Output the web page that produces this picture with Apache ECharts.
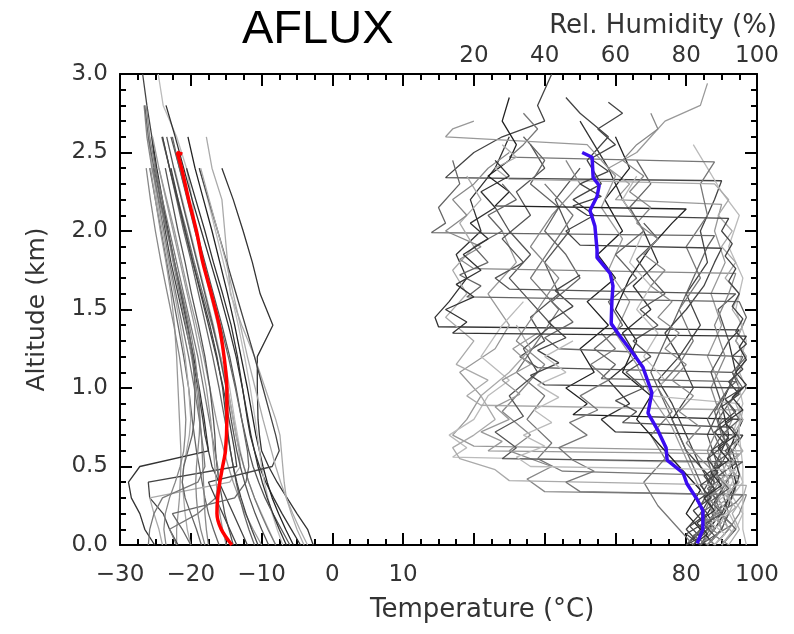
<!DOCTYPE html>
<html>
<head>
<meta charset="utf-8">
<script src="https://cdn.jsdelivr.net/npm/echarts@6/dist/echarts.min.js"></script>
<style>
  html, body { margin: 0; padding: 0; background: #fff; }
  #chart { width: 794px; height: 634px; }
</style>
</head>
<body>
<div id="chart"></div>
<script>
// altitude levels (km) for the temperature soundings
const altT = [0, 0.1, 0.2, 0.3, 0.4, 0.5, 0.6, 0.7, 0.8, 1.0, 1.2, 1.4, 1.6, 1.8, 2.0, 2.2, 2.4, 2.6, 2.8, 3.0];

// temperature soundings (degC), one per drop
const tempRuns = [
  [-2.7,-3.5,-5.0,-6.4,-7.8,-9.0,-10.0,-10.3,-10.5,-10.6,-10.6,-8.4,-10.2,-11.3,-12.6,-14.0,-15.6],
  [-4.0,-5.0,-5.8,-6.5,-6.8,-7.0,-7.2,-7.4,-8.0,-9.5,-11.0,-12.8,-14.4,-14.8,-15.2,-15.6,-17.0,-17.8],
  [-8.0,-9.0,-10.0,-11.0,-11.8,-12.5,-13.0,-13.4,-13.8,-14.5,-15.3,-16.2,-17.3,-18.3,-19.3,-19.8,-20.6,-22.0,-23.9,-24.6],
  [-12.0,-13.0,-14.0,-15.0,-16.0,-17.0,-17.5,-18.0,-18.3,-19.0,-19.8,-20.8,-21.8,-22.8,-23.6,-24.3,-25.0,-25.5,-26.2,-26.8],
  [-6.0,-7.2,-8.4,-9.5,-10.4,-11.2,-11.8,-12.3,-12.8,-13.6,-14.5,-15.6,-16.8,-18.0,-19.2,-20.4,-21.6,-22.8],
  [-8.0,-9.1,-10.1,-11.0,-11.8,-12.5,-13.1,-13.6,-14.0,-14.8,-15.8,-17.0,-18.3,-19.5,-20.6,-21.8,-23.0,-24.1],
  [-4.5,-5.8,-7.1,-8.3,-9.4,-10.3,-11.0,-11.6,-12.0,-12.7,-13.4,-14.3,-15.5,-16.8,-18.0,-19.3,-20.6],
  [-10.0,-11.2,-12.3,-13.2,-14.0,-14.7,-15.3,-15.9,-16.4,-17.3,-18.2,-19.2,-20.3,-21.3,-22.3,-23.4,-24.5],
  [-16.0,-16.8,-17.5,-18.0,-18.4,-18.8,-19.2,-19.5,-19.8,-20.3,-21.0,-21.8,-22.6,-23.4,-24.2,-25.0,-25.8],
  [-22.0,-22.0,-21.8,-21.6,-21.5,-21.4,-21.4,-21.5,-21.6,-21.8,-22.0,-22.3,-22.8,-23.5,-24.3,-25.0,-25.7],
  [-20.0,-20.5,-20.8,-21.0,-21.2,-21.0,-20.6,-20.2,-20.0,-20.3,-20.8,-21.5,-22.3,-23.2,-24.0,-24.8,-25.4,-26.0],
  [-14.0,-14.6,-15.2,-15.6,-16.0,-16.3,-16.5,-16.6,-16.8,-17.3,-18.0,-18.9,-19.9,-20.8,-21.8,-22.7,-23.6],
  [-5.5,-6.6,-7.6,-8.5,-9.2,-9.8,-10.3,-10.8,-11.2,-12.0,-12.9,-13.8,-14.8,-15.9,-17.0,-18.2,-19.4,-20.4],
  [-7.0,-7.8,-8.5,-9.1,-9.6,-10.0,-10.3,-10.6,-10.9,-11.6,-12.4,-13.3,-14.3,-15.4,-16.5,-17.6,-18.8],
  [-11.0,-11.8,-12.5,-13.1,-13.6,-14.0,-14.4,-14.8,-15.2,-16.0,-16.9,-17.9,-18.9,-19.9,-21.0,-22.0,-23.0,-24.0],
  [-17.5,-17.8,-18.0,-18.1,-18.2,-18.3,-18.4,-18.5,-18.7,-19.2,-19.9,-20.7,-21.6,-22.5,-23.3,-24.1,-25.0,-25.8,-26.3],
  [-25.1,-26.5,-27.2,-28.4,-28.8,-27.2,-17.5,-17.8,-18.1,-18.8,-19.6,-20.5,-21.4,-22.3,-23.2,-24.0,-24.8,-25.5],
  [-21.8,-23.0,-23.9,-25.8,-26.0,-13.5,-13.8,-14.2,-14.6,-15.4,-16.4,-17.5,-18.6,-19.7,-20.8,-21.8,-22.8],
  [-24.0,-24.5,-25.2,-25.8,-14.5,-13.0,-13.2,-13.6,-14.0,-14.8,-15.8,-16.8,-17.9,-19.0,-20.1,-21.2,-22.3],
  [-20.0,-21.2,-22.6,-13.8,-12.2,-11.8,-12.0,-12.4,-12.8,-13.7,-14.7,-15.8,-17.0,-18.2,-19.4,-20.5,-21.6,-22.6],
  [-22.0,-23.0,-19.0,-16.5,-16.0,-16.2,-16.6,-17.0,-17.4,-18.2,-19.0,-20.0,-21.0,-22.0,-23.0,-24.0,-25.0],
  [-13.5,-14.5,-15.5,-16.5,-17.5,-8.5,-7.5,-8.0,-8.6,-9.8,-11.0,-12.3,-13.6,-14.9,-16.2,-17.5,-18.8],
  [-18.0,-18.6,-19.0,-19.2,-19.3,-19.2,-19.0,-18.8,-18.7,-18.9,-19.4,-20.2,-21.2,-22.3,-23.4,-24.5,-25.5,-26.2,-26.6],
  [-9.0,-10.0,-10.9,-11.7,-12.4,-13.0,-13.5,-13.9,-14.3,-15.0,-15.9,-16.9,-18.0,-19.1,-20.2,-21.3,-22.4,-23.4],
  [-6.5,-7.5,-8.4,-9.2,-9.9,-10.5,-11.0,-11.5,-11.9,-12.7,-13.6,-14.7,-15.9,-17.2,-18.5,-19.8,-21.0,-22.2,-23.5],
  [-15.0,-15.5,-15.9,-16.2,-16.4,-16.6,-16.8,-17.0,-17.2,-17.8,-18.6,-19.5,-20.5,-21.5,-22.5,-23.5,-24.5,-25.4],
  [-26.0,-25.8,-25.2,-24.0,-19.0,-18.0,-18.2,-18.5,-18.8,-19.5,-20.3,-21.2,-22.1,-23.0,-23.8,-24.6,-25.3],
  [-18.5,-19.2,-20.0,-20.8,-21.2,-21.0,-20.4,-19.8,-19.5,-19.4,-19.7,-20.4,-21.3,-22.3,-23.3,-24.3,-25.2,-26.0,-26.5],
  [-10.5,-11.4,-12.2,-12.9,-13.5,-14.0,-14.4,-14.7,-15.0,-15.5,-16.3,-17.3,-18.5,-19.7,-20.8,-21.9,-23.0,-24.0],
  [-3.5,-4.6,-5.6,-6.5,-7.3,-8.0,-8.6,-9.2,-9.8,-10.9,-12.0,-13.0,-14.0,-15.0,-16.2,-17.4,-18.6],
  [-23.5,-23.8,-23.6,-23.0,-22.2,-21.5,-21.0,-20.8,-20.7,-21.0,-21.6,-22.4,-23.3,-24.2,-25.0,-25.7,-26.3]
];
const tempShades = ['#333','#aaa','#bbb','#444','#555','#777','#333','#999','#666','#999','#aaa','#555',
  '#222','#bbb','#666','#888','#333','#444','#aaa','#666','#777','#444','#888',
  '#555','#333','#999','#777','#666','#444','#aaa','#888'];

// campaign mean temperature [degC, km]
const tempMean = [[-14.2,0],[-15.7,0.1],[-16.3,0.2],[-16.2,0.3],[-15.9,0.4],[-15.5,0.5],[-15.1,0.6],
  [-14.9,0.8],[-14.9,1.0],[-15.3,1.2],[-16.0,1.4],[-17.1,1.6],[-18.3,1.8],[-19.2,2.0],[-20.3,2.2],
  [-21.3,2.4],[-21.9,2.5],[-21.2,2.49]];

// relative humidity soundings [%, km]
const rhRuns = [
  [[84,0],[88,0.1],[86,0.2],[90,0.35],[88,0.5],[92,0.7],[90,0.9],[94,1.1],[92,1.3],[95,1.37],[10,1.39],[9,1.45],[13,1.55],[18,1.7],[15,1.85],[22,2.0],[19,2.2],[26,2.4],[30,2.6]],
  [[80,0],[85,0.1],[90,0.25],[87,0.4],[92,0.6],[89,0.8],[95,1.0],[93,1.1],[38,1.13],[33,1.2],[40,1.3],[36,1.45],[44,1.6],[40,1.8],[47,2.0],[43,2.2],[50,2.4]],
  [[88,0],[92,0.1],[90,0.2],[94,0.35],[92,0.5],[96,0.6],[20,0.63],[14,0.7],[18,0.8],[22,0.95],[16,1.1],[26,1.25],[30,1.4],[24,1.6],[32,1.8],[28,2.0]],
  [[86,0],[90,0.1],[88,0.2],[93,0.3],[95,0.44],[45,0.47],[38,0.55],[42,0.65],[35,0.8],[40,0.95],[32,1.1],[38,1.3],[44,1.5],[36,1.7],[42,1.9],[48,2.1],[40,2.3]],
  [[90,0],[94,0.12],[91,0.25],[96,0.4],[94,0.52],[14,0.56],[18,0.62],[13,0.7],[20,0.8],[24,0.95],[30,1.05],[22,1.2],[28,1.4],[34,1.55]],
  [[82,0],[86,0.1],[84,0.25],[88,0.4],[80,0.6],[76,0.8],[82,1.0],[78,1.2],[84,1.4],[80,1.6],[86,1.8],[84,2.0],[88,2.2],[90,2.32],[12,2.34],[16,2.42],[20,2.5],[28,2.6],[40,2.7],[38,2.8],[42,3.0]],
  [[84,0],[88,0.15],[86,0.3],[82,0.5],[78,0.7],[74,0.9],[70,1.1],[74,1.3],[78,1.5],[82,1.7],[86,1.9],[88,1.97],[8,1.99],[12,2.05],[10,2.15],[16,2.3],[14,2.45]],
  [[90,0],[94,0.1],[96,0.2],[92,0.35],[95,0.5],[93,0.7],[96,0.9],[94,1.1],[97,1.3],[94,1.5],[96,1.7],[92,1.9],[95,2.1],[90,2.25],[86,2.4],[82,2.55]],
  [[86,0],[90,0.1],[88,0.25],[92,0.4],[89,0.6],[93,0.8],[90,1.0],[86,1.2],[90,1.4],[87,1.6],[91,1.8],[88,2.0],[90,2.17],[60,2.2],[64,2.3],[58,2.4],[66,2.5],[70,2.6],[74,2.7],[84,2.8],[86,2.94]],
  [[82,0],[86,0.1],[90,0.2],[94,0.4],[92,0.6],[96,0.8],[48,0.83],[52,0.9],[46,1.0],[54,1.1],[50,1.25],[58,1.4],[52,1.55],[60,1.7],[55,1.85],[62,2.0],[57,2.2],[64,2.4],[60,2.6]],
  [[80,0],[84,0.1],[88,0.2],[85,0.35],[89,0.5],[86,0.7],[90,0.9],[87,1.1],[92,1.3],[89,1.5],[94,1.6],[30,1.63],[26,1.7],[34,1.8],[28,1.95],[36,2.1],[32,2.25],[40,2.4],[36,2.55]],
  [[88,0],[92,0.1],[95,0.2],[97,0.32],[40,0.34],[35,0.42],[42,0.5],[30,0.6],[36,0.7],[28,0.85],[34,1.0],[40,1.15],[32,1.3],[38,1.5],[44,1.7],[36,1.9],[42,2.1],[50,2.3],[46,2.45]],
  [[84,0],[88,0.1],[92,0.25],[95,0.45],[93,0.6],[96,0.7],[60,0.72],[56,0.8],[64,0.9],[58,1.05],[66,1.2],[62,1.35],[70,1.5],[65,1.65],[72,1.8],[68,2.0],[62,2.2],[58,2.4],[54,2.55],[50,2.7]],
  [[82,0],[78,0.1],[72,0.25],[68,0.4],[74,0.55],[70,0.7],[76,0.85],[72,1.0],[78,1.15],[82,1.3],[78,1.5],[84,1.7],[80,1.9],[86,2.1],[84,2.3],[88,2.44],[30,2.47],[34,2.55],[38,2.65],[34,2.75]],
  [[86,0],[90,0.1],[93,0.25],[90,0.45],[94,0.65],[96,0.86],[22,0.89],[18,0.95],[24,1.05],[15,1.15],[20,1.3],[12,1.45],[18,1.6],[14,1.75],[20,1.9],[16,2.05],[22,2.2],[18,2.35]],
  [[84,0],[80,0.1],[84,0.2],[88,0.35],[84,0.5],[80,0.7],[76,0.9],[72,1.05],[78,1.2],[74,1.35],[80,1.5],[85,1.65],[88,1.8],[90,1.89],[50,1.91],[46,2.0],[54,2.1],[48,2.2],[56,2.3],[52,2.45],[58,2.6],[50,2.75],[46,2.85]],
  [[90,0],[94,0.1],[90,0.2],[86,0.4],[90,0.6],[86,0.8],[92,1.0],[96,1.2],[44,1.25],[40,1.32],[48,1.42],[42,1.55],[50,1.7],[46,1.85],[40,2.0],[44,2.15],[36,2.3],[40,2.45],[34,2.6]],
  [[86,0],[90,0.1],[88,0.2],[84,0.35],[80,0.55],[76,0.75],[70,0.95],[66,1.15],[60,1.35],[64,1.55],[58,1.75],[62,1.95],[56,2.15],[60,2.35],[52,2.55],[12,2.6],[14,2.65],[20,2.7]],
  [[97,0],[96,0.1],[96,0.3],[96,0.5],[95,0.7],[95,0.9],[70,0.95],[74,1.05],[68,1.2],[72,1.35],[66,1.5],[70,1.65],[64,1.8],[68,2.0],[62,2.2],[66,2.35]],
  [[86,0],[90,0.1],[92,0.2],[90,0.35],[94,0.5],[96,0.53],[28,0.55],[32,0.62],[26,0.72],[34,0.82],[30,0.95],[38,1.1],[34,1.25],[42,1.4],[36,1.55],[30,1.7],[36,1.85],[30,2.0],[26,2.15]],
  [[84,0],[88,0.1],[85,0.2],[89,0.4],[86,0.6],[90,0.8],[87,1.0],[91,1.2],[88,1.4],[92,1.6],[94,1.73],[20,1.76],[16,1.82],[22,1.9],[12,2.0],[18,2.1],[14,2.2],[20,2.3],[24,2.4],[30,2.5]],
  [[88,0],[84,0.1],[80,0.2],[84,0.35],[78,0.5],[72,0.65],[66,0.8],[70,0.95],[62,1.1],[66,1.3],[60,1.5],[64,1.7],[70,1.9],[76,2.05],[80,2.14],[26,2.16],[30,2.25],[24,2.35],[30,2.45],[32,2.55],[28,2.7],[30,2.85]],
  [[82,0],[86,0.1],[84,0.25],[88,0.4],[86,0.55],[90,0.7],[88,0.85],[92,1.0],[94,1.04],[56,1.06],[60,1.15],[54,1.25],[62,1.4],[58,1.55],[66,1.7],[60,1.85],[68,2.0],[64,2.15],[70,2.3],[66,2.45]],
  [[92,0],[95,0.1],[93,0.2],[96,0.3],[97,0.38],[30,0.41],[26,0.48],[16,0.55],[14,0.62],[20,0.7],[26,0.8],[22,0.95],[30,1.1],[36,1.25],[32,1.4]],
  [[88,0],[85,0.06],[90,0.14],[87,0.22],[92,0.3],[89,0.38],[94,0.45],[91,0.52],[95,0.58],[24,0.6],[28,0.66],[22,0.72],[30,0.8],[26,0.88],[33,0.96],[28,1.05],[36,1.15],[31,1.25],[38,1.35]],
  [[80,0],[84,0.05],[81,0.12],[86,0.2],[83,0.28],[88,0.36],[85,0.44],[90,0.52],[87,0.6],[92,0.68],[89,0.76],[94,0.85],[91,0.93],[96,1.0],[40,1.02],[36,1.08],[44,1.16],[38,1.24],[46,1.32],[41,1.42],[48,1.52],[43,1.62],[50,1.72]],
  [[92,0],[88,0.06],[93,0.13],[89,0.2],[94,0.27],[96,0.32],[50,0.34],[46,0.4],[54,0.47],[48,0.54],[44,0.62],[52,0.7],[47,0.78],[55,0.86],[50,0.95],[58,1.05],[53,1.15],[60,1.25],[56,1.35]],
  [[86,0],[82,0.06],[87,0.13],[84,0.2],[89,0.28],[86,0.36],[91,0.44],[88,0.52],[93,0.6],[90,0.7],[95,0.8],[92,0.9],[96,1.0],[93,1.1],[97,1.2],[94,1.3],[97,1.45],[95,1.55],[18,1.58],[22,1.65],[16,1.72],[24,1.8],[20,1.9],[28,2.0],[24,2.1],[32,2.2],[28,2.3]],
  [[84,0],[88,0.06],[85,0.13],[90,0.2],[87,0.28],[92,0.36],[89,0.44],[94,0.52],[91,0.6],[95,0.68],[93,0.75],[62,0.78],[66,0.85],[60,0.92],[68,1.0],[63,1.1],[70,1.2],[65,1.3],[72,1.4],[67,1.5],[74,1.6],[70,1.7],[66,1.82],[72,1.95],[68,2.05]],
  [[90,0],[93,0.08],[90,0.16],[94,0.24],[91,0.32],[95,0.4],[92,0.5],[96,0.6],[93,0.7],[96,0.8],[94,0.9],[97,1.0],[95,1.1],[97,1.2],[94,1.3],[96,1.4],[93,1.5],[95,1.6],[91,1.7],[94,1.8],[90,1.9],[93,2.0],[89,2.1],[92,2.2],[88,2.3],[30,2.33],[26,2.4],[32,2.47],[28,2.55]],
  [[82,0],[86,0.07],[83,0.14],[88,0.22],[85,0.3],[90,0.38],[87,0.46],[92,0.54],[89,0.62],[94,0.7],[91,0.78],[96,0.86],[93,0.94],[97,1.02],[94,1.1],[97,1.18],[95,1.26],[97,1.33],[14,1.35],[18,1.42],[12,1.5],[20,1.58],[15,1.66],[22,1.75],[17,1.85],[24,1.95],[19,2.05],[26,2.15],[22,2.25],[30,2.35],[26,2.45]],
  [[88,0],[91,0.07],[87,0.14],[92,0.21],[89,0.28],[93,0.35],[90,0.42],[94,0.48],[36,0.5],[32,0.56],[40,0.63],[34,0.7],[42,0.78],[37,0.86],[44,0.94],[38,1.02],[46,1.1],[40,1.2],[48,1.3]],
  [[86,0],[89,0.07],[85,0.14],[90,0.22],[86,0.3],[91,0.38],[88,0.46],[84,0.55],[80,0.65],[84,0.75],[78,0.85],[82,0.95],[76,1.05],[80,1.15],[74,1.25],[78,1.35],[72,1.45],[76,1.55],[70,1.65],[74,1.75],[68,1.85],[72,1.95],[66,2.05],[70,2.15],[64,2.25],[68,2.35],[62,2.45],[66,2.55],[72,2.65],[70,2.75]],
  [[84,0],[80,0.07],[85,0.14],[82,0.22],[87,0.3],[84,0.38],[89,0.46],[86,0.55],[91,0.64],[88,0.72],[93,0.8],[90,0.88],[95,0.96],[92,1.04],[96,1.12],[93,1.2],[97,1.28],[94,1.36],[96,1.44],[93,1.52],[95,1.6],[92,1.68],[94,1.76],[91,1.84],[93,1.92],[90,2.0],[92,2.08],[52,2.1],[48,2.16],[56,2.22],[50,2.3],[58,2.38],[53,2.46],[60,2.55],[55,2.65],[62,2.75],[58,2.82]]
];
const rhShades = ['#333','#555','#999','#777','#bbb','#444','#666','#bbb','#999','#222','#555','#888',
  '#333','#777','#aaa','#444','#666','#999','#bbb','#555','#888','#222','#666','#aaa',
  '#999','#444','#777','#666','#555','#aaa','#333','#bbb','#888','#444'];

// campaign mean relative humidity [%, km]
const rhMean = [[83.1,0.01],[84.7,0.10],[84.7,0.22],[83.1,0.29],[80.2,0.39],[79.1,0.46],[74.6,0.54],
  [74.3,0.62],[72.0,0.73],[69.2,0.84],[70.3,0.97],[67.8,1.13],[65.0,1.22],[61.3,1.33],[58.8,1.41],
  [59.0,1.56],[59.3,1.65],[58.5,1.73],[54.8,1.83],[54.8,1.88],[54.2,2.03],[52.8,2.13],[54.8,2.22],
  [55.4,2.29],[53.7,2.34],[53.4,2.47],[50.6,2.50]];

const bottomLabels = { '-30': '\u221230', '-20': '\u221220', '-10': '\u221210', '0': '0', '10': '10', '50': '80', '60': '100' };
const topLabels = ['20', '40', '60', '80', '100'];

const font = 'DejaVu Sans';
const textGrey = '#333';
const axisLine = { show: true, onZero: false, lineStyle: { color: '#000', width: 2 } };
const axisTick = { show: true, inside: true, length: 12, lineStyle: { color: '#000', width: 2 } };
const minorTick = n => ({ show: true, splitNumber: n, length: 6, lineStyle: { color: '#000', width: 2 } });

const series = [];
tempRuns.forEach((run, i) => {
  const data = [];
  run.forEach((t, k) => { if (t != null) data.push([t, altT[k]]); });
  series.push({
    type: 'line', xAxisIndex: 0, yAxisIndex: 0, data: data, showSymbol: false,
    lineStyle: { color: tempShades[i], width: 1.3 }, z: 2
  });
});
rhRuns.forEach((run, i) => {
  series.push({
    type: 'line', xAxisIndex: 1, yAxisIndex: 0, data: run, showSymbol: false,
    lineStyle: { color: rhShades[i], width: 1.3 }, z: 2
  });
});
series.push({
  type: 'line', xAxisIndex: 0, yAxisIndex: 0, data: tempMean, showSymbol: false, smooth: 0.3,
  lineStyle: { color: '#ff0000', width: 3.5 }, z: 5
});
series.push({
  type: 'line', xAxisIndex: 1, yAxisIndex: 0, data: rhMean, showSymbol: false,
  lineStyle: { color: '#3a0cf0', width: 3.5 }, z: 5
});

const chart = echarts.init(document.getElementById('chart'));
chart.setOption({
  animation: false,
  backgroundColor: '#fff',
  title: [
    { text: 'AFLUX', left: 237, top: 2, textStyle: { fontFamily: 'Liberation Sans', fontSize: 47, fontWeight: 'normal', color: '#000' } },
    { text: 'Rel. Humidity (%)', right: 12, top: 8, textStyle: { fontFamily: font, fontSize: 26, fontWeight: 'normal', color: textGrey } },
    { text: 'Temperature (\u00b0C)', left: 365, top: 592, textStyle: { fontFamily: font, fontSize: 26, fontWeight: 'normal', color: textGrey } }
  ],
  grid: { left: 120, right: 37, top: 74, bottom: 89 },
  xAxis: [
    {
      type: 'value', position: 'bottom', min: -30, max: 60, interval: 10,
      axisLine: axisLine, axisTick: axisTick, minorTick: minorTick(4), splitLine: { show: false },
      axisLabel: {
        margin: 19, fontFamily: font, fontSize: 23, color: textGrey,
        formatter: v => bottomLabels[String(v)] || ''
      }
    },
    {
      type: 'value', position: 'top', min: -80, max: 100, interval: 20,
      axisLine: axisLine, axisTick: axisTick, minorTick: minorTick(4), splitLine: { show: false },
      axisLabel: {
        margin: 6, fontFamily: font, fontSize: 23, color: textGrey,
        formatter: v => topLabels.indexOf(String(v)) >= 0 ? String(v) : ''
      }
    }
  ],
  yAxis: [
    {
      type: 'value', position: 'left', min: 0, max: 3, interval: 0.5,
      axisLine: axisLine, axisTick: axisTick, minorTick: minorTick(5), splitLine: { show: false },
      axisLabel: { margin: 12, fontFamily: font, fontSize: 23, color: textGrey, formatter: v => v.toFixed(1) },
      name: 'Altitude (km)', nameLocation: 'middle', nameGap: 70, nameRotate: 90,
      nameTextStyle: { fontFamily: font, fontSize: 25, color: textGrey }
    },
    {
      type: 'value', position: 'right', min: 0, max: 3, interval: 0.5,
      axisLine: axisLine, axisTick: axisTick, minorTick: minorTick(5), splitLine: { show: false },
      axisLabel: { show: false }
    }
  ],
  series: series
});
</script>
</body>
</html>
